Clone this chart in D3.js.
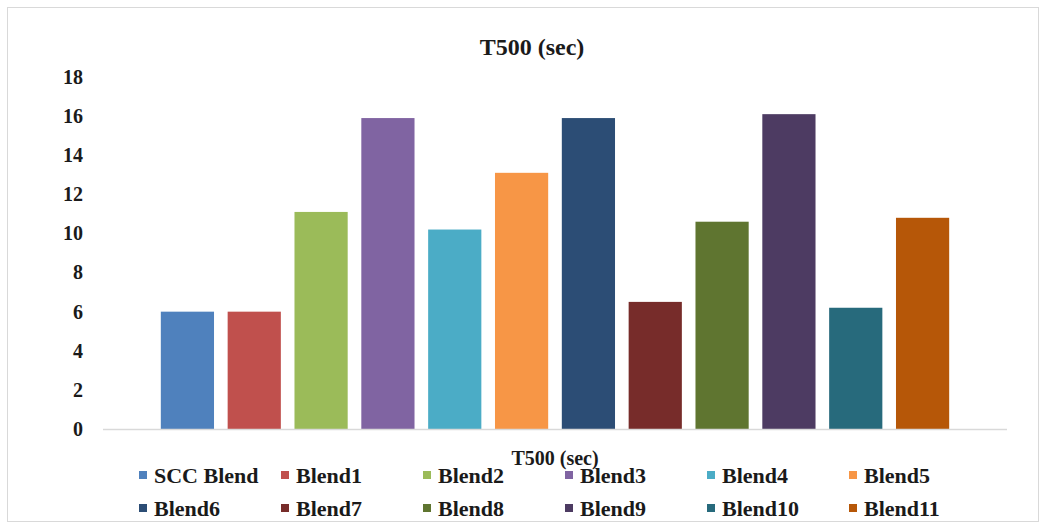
<!DOCTYPE html>
<html>
<head>
<meta charset="utf-8">
<script src="https://cdn.jsdelivr.net/npm/d3@7"></script>
<style>
  html, body { margin: 0; padding: 0; background: #fff; }
  svg text { font-family: "Liberation Serif", "Tinos", "DejaVu Serif", "Times New Roman", serif; font-weight: bold; }
</style>
</head>
<body>
<svg id="chart" width="1045" height="526"></svg>
<script>
// T500 (sec) per blend
const series = ["SCC Blend", "Blend1", "Blend2", "Blend3", "Blend4", "Blend5",
                "Blend6", "Blend7", "Blend8", "Blend9", "Blend10", "Blend11"];
const values = [6.0, 6.0, 11.1, 15.9, 10.2, 13.1, 15.9, 6.5, 10.6, 16.1, 6.2, 10.8];
const colors = ["#4F81BD", "#C0504D", "#9BBB59", "#8064A2", "#4BACC6", "#F79646",
                "#2C4D75", "#772C2A", "#5F7530", "#4D3B62", "#276A7C", "#B65708"];
const yTicks = [0, 2, 4, 6, 8, 10, 12, 14, 16, 18];
const title = "T500 (sec)";
const category = "T500 (sec)";

const FONT = "'Liberation Serif', 'Tinos', 'DejaVu Serif', 'Times New Roman', serif";
const svg = d3.select("#chart");

// outer chart frame
svg.append("rect")
  .attr("x", 7.5).attr("y", 7.5)
  .attr("width", 1031).attr("height", 514)
  .attr("fill", "#fff")
  .attr("stroke", "#d9d9d9").attr("stroke-width", 1);

const plot = { left: 103, right: 1007, top: 77, bottom: 429 };

const y = d3.scaleLinear().domain([0, 18]).range([plot.bottom, plot.top]);
const x = d3.scaleBand()
  .domain(series)
  .range([154, 956])
  .paddingInner(0.204)
  .paddingOuter(0.102);

// title
svg.append("text")
  .attr("x", 532).attr("y", 55)
  .attr("text-anchor", "middle")
  .attr("font-family", FONT)
  .attr("font-size", 24)
  .attr("fill", "#1a1a1a")
  .text(title);

// y axis labels only (no line, no ticks)
const yAxis = d3.axisLeft(y).tickValues(yTicks).tickSize(0).tickPadding(0);
const gy = svg.append("g").attr("transform", "translate(83,0)").call(yAxis)
  .attr("font-family", FONT);
gy.select(".domain").remove();
gy.selectAll("text")
  .attr("font-size", 20)
  .attr("font-family", FONT)
  .attr("fill", "#1a1a1a");

// bars
svg.append("g").selectAll("rect")
  .data(series)
  .join("rect")
  .attr("x", d => x(d))
  .attr("width", x.bandwidth())
  .attr("y", (d, i) => y(values[i]))
  .attr("height", (d, i) => y(0) - y(values[i]))
  .attr("fill", (d, i) => colors[i]);

// category axis baseline
svg.append("line")
  .attr("x1", plot.left).attr("x2", plot.right)
  .attr("y1", y(0) + 0.5).attr("y2", y(0) + 0.5)
  .attr("stroke", "#d9d9d9").attr("stroke-width", 1.5);

// category label
svg.append("text")
  .attr("x", 555).attr("y", 465)
  .attr("text-anchor", "middle")
  .attr("font-family", FONT)
  .attr("font-size", 20)
  .attr("fill", "#1a1a1a")
  .text(category);

// legend: two rows of six
const legendCols = [139, 281, 423, 565, 707, 849];
const legendRows = [475, 508];
const lg = svg.append("g").selectAll("g")
  .data(series)
  .join("g")
  .attr("transform", (d, i) => `translate(${legendCols[i % 6]},${legendRows[Math.floor(i / 6)]})`);
lg.append("rect")
  .attr("x", 0).attr("y", -4)
  .attr("width", 8).attr("height", 8)
  .attr("fill", (d, i) => colors[i]);
lg.append("text")
  .attr("x", 15).attr("y", 0)
  .attr("dy", "0.35em")
  .attr("font-family", FONT)
  .attr("font-size", 22)
  .attr("fill", "#1a1a1a")
  .text(d => d);
</script>
</body>
</html>
